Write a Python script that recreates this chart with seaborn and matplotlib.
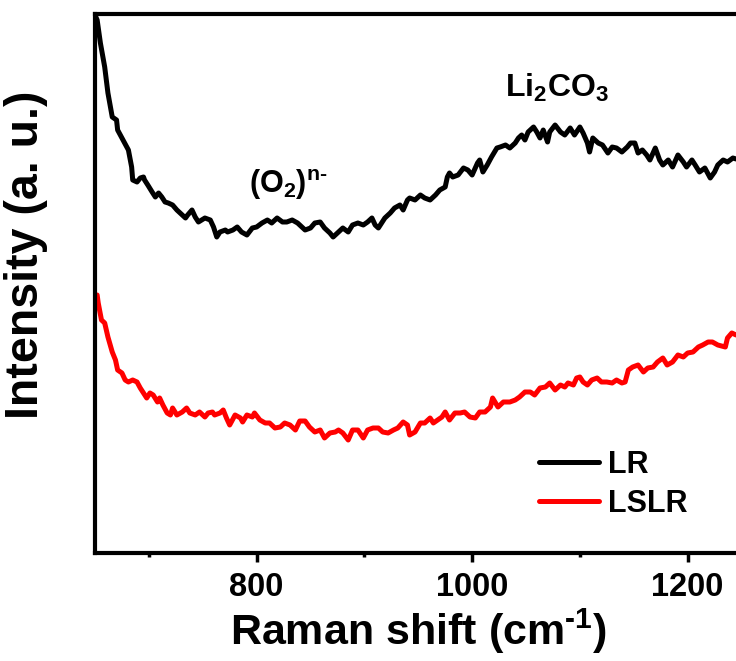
import numpy as np
import pandas as pd
import matplotlib
matplotlib.use("Agg")
import matplotlib.pyplot as plt
import seaborn as sns

# Raman spectra (shift in cm^-1, intensity in arbitrary units, LR offset upward)
lr_shift = [650, 652, 655, 659, 662, 666, 670, 671, 676, 681, 684, 685, 689, 692, 695,
            696, 699, 703, 706, 709, 712, 715, 718, 722, 726, 731, 734, 736, 740, 743,
            746, 749, 752, 757, 760, 763, 766, 771, 773, 778, 782, 786, 791, 796, 800,
            805, 810, 814, 819, 824, 828, 833, 838, 840, 845, 850, 854, 859, 863, 868,
            871, 876, 880, 885, 889, 894, 899, 903, 907, 910, 913, 916, 919, 924, 928,
            933, 936, 940, 942, 947, 952, 956, 961, 966, 970, 975, 977, 979, 982, 987,
            992, 996, 1000, 1005, 1007, 1010, 1014, 1018, 1023, 1026, 1031, 1035, 1040,
            1043, 1046, 1049, 1052, 1057, 1060, 1063, 1066, 1070, 1072, 1077, 1082, 1086,
            1091, 1095, 1100, 1103, 1107, 1109, 1112, 1117, 1121, 1126, 1130, 1134, 1139,
            1144, 1147, 1151, 1154, 1158, 1162, 1165, 1170, 1174, 1177, 1182, 1186, 1191,
            1196, 1199, 1204, 1207, 1211, 1216, 1221, 1225, 1228, 1233, 1237, 1242, 1245]
lr_intensity = [538, 533, 510, 486, 460, 436, 433, 423, 413, 403, 386, 373, 371, 375, 376,
                373, 368, 361, 356, 360, 356, 351, 350, 348, 343, 338, 335, 338, 343, 336,
                331, 333, 335, 333, 326, 316, 321, 323, 321, 323, 326, 321, 318, 325, 326,
                330, 333, 330, 335, 331, 331, 333, 330, 328, 323, 325, 330, 331, 325, 320,
                316, 321, 325, 321, 328, 330, 328, 331, 335, 328, 325, 330, 335, 340, 345,
                348, 343, 353, 355, 353, 358, 355, 353, 358, 363, 366, 376, 380, 376, 378,
                385, 383, 378, 390, 393, 381, 388, 396, 405, 406, 408, 405, 410,
                415, 418, 413, 421, 426, 421, 415, 423, 411, 421, 428, 421, 418,
                425, 418, 426, 420, 410, 401, 415, 410, 408, 400, 406, 405, 401,
                406, 410, 410, 400, 403, 398, 393, 405, 393, 388, 393, 386, 398,
                391, 386, 393, 388, 381, 385, 375, 381, 388, 393, 391, 395, 394]

lslr_shift = [652, 653, 656, 659, 662, 666, 669, 671, 675, 678, 681, 685, 689, 692, 695,
              698, 701, 704, 708, 710, 713, 717, 720, 722, 726, 731, 735, 738, 743, 747,
              752, 755, 759, 761, 766, 769, 772, 775, 780, 785, 787, 791, 796, 798, 803,
              808, 812, 817, 822, 826, 831, 836, 840, 845, 849, 854, 859, 863, 868, 873,
              876, 880, 885, 889, 894, 899, 903, 908, 913, 917, 922, 927, 931, 936, 940,
              942, 947, 952, 956, 961, 964, 968, 972, 975, 979, 984, 989, 993, 998, 1003,
              1007, 1012, 1017, 1019, 1024, 1029, 1033, 1035, 1040, 1044, 1049, 1054, 1058,
              1063, 1068, 1072, 1077, 1082, 1086, 1089, 1094, 1097, 1100, 1103, 1107, 1111,
              1116, 1120, 1125, 1130, 1134, 1139, 1142, 1145, 1149, 1154, 1159, 1163, 1168,
              1172, 1177, 1181, 1186, 1191, 1196, 1200, 1205, 1210, 1214, 1219, 1223, 1228,
              1235, 1237, 1241, 1245]
lslr_intensity = [258, 250, 233, 230, 216, 201, 193, 183, 180, 173, 171, 173, 171, 165, 160,
                  155, 160, 158, 151, 155, 148, 140, 138, 145, 138, 141, 145, 140, 138, 141,
                  136, 140, 141, 138, 140, 143, 135, 128, 138, 135, 131, 138, 136, 140, 133,
                  130, 130, 125, 126, 130, 128, 123, 132, 132, 126, 121, 123, 115, 120, 121,
                  123, 120, 113, 123, 123, 115, 123, 125, 125, 121, 120, 123, 125, 131, 128,
                  118, 121, 130, 130, 135, 130, 133, 136, 141, 133, 140, 140, 141, 136, 135,
                  141, 141, 146, 155, 146, 151, 151, 151, 153, 156, 161, 161, 158,
                  165, 166, 170, 163, 168, 166, 170, 168, 175, 176, 171, 168, 173,
                  175, 171, 171, 170, 173, 170, 171, 183, 186, 188, 181, 185, 186,
                  191, 195, 188, 191, 198, 196, 200, 201, 206, 208, 211, 211, 208,
                  206, 215, 220, 218]

series_names = ["LR", "LSLR"]
series_colors = ["#000000", "#ff0000"]
x_ticks = [800, 1000, 1200]
x_minor_ticks = [700, 900, 1100]

sns.set_theme(style="ticks")
plt.rcParams["font.family"] = ["Liberation Sans", "DejaVu Sans"]
plt.rcParams["font.weight"] = "bold"
plt.rcParams["text.color"] = "black"
plt.rcParams["axes.labelcolor"] = "black"
plt.rcParams["xtick.color"] = "black"
plt.rcParams["ytick.color"] = "black"
plt.rcParams["mathtext.fontset"] = "custom"
plt.rcParams["mathtext.rm"] = "Liberation Sans:bold"
plt.rcParams["mathtext.it"] = "Liberation Sans:bold"
plt.rcParams["mathtext.bf"] = "Liberation Sans:bold"

df = pd.concat([
    pd.DataFrame({"shift": lr_shift, "intensity": lr_intensity, "sample": "LR"}),
    pd.DataFrame({"shift": lslr_shift, "intensity": lslr_intensity, "sample": "LSLR"}),
], ignore_index=True)

W, H = 736, 661
fig = plt.figure(figsize=(W / 100, H / 100), dpi=100)
x_min, x_max = 650, 1250
px_per_unit = 1.0775
ax_left, ax_right = 95, 95 + (x_max - x_min) * px_per_unit
ax_top, ax_bottom = 14, 553
ax = fig.add_axes([ax_left / W, 1 - ax_bottom / H,
                   (ax_right - ax_left) / W, (ax_bottom - ax_top) / H])

sns.lineplot(data=df, x="shift", y="intensity", hue="sample",
             hue_order=series_names, palette=series_colors,
             estimator=None, sort=True, linewidth=3.6, ax=ax)

ax.set_xlim(x_min, x_max)
ax.set_ylim(0, 539)
ax.set_xticks(x_ticks)
ax.set_xticks(x_minor_ticks, minor=True)
ax.set_yticks([])
ax.tick_params(axis="x", which="major", direction="out", length=6.5, width=2.5,
               pad=7, labelsize=23.5, colors="black")
ax.tick_params(axis="x", which="minor", direction="out", length=3, width=2.5)
for lbl in ax.get_xticklabels():
    lbl.set_fontweight("bold")
for side in ["left", "bottom", "top", "right"]:
    ax.spines[side].set_linewidth(3)
    ax.spines[side].set_color("black")
    ax.spines[side].set_visible(True)

ax.set_xlabel(r"Raman shift (cm$^{\text{-1}}$)", fontsize=31, fontweight="bold", labelpad=3)
ax.set_ylabel("Intensity (a. u.)", fontsize=33.5, fontweight="bold")
ax.yaxis.set_label_coords(-0.072, 0.553)

ax.text(829, 368, r"(O$_2$)$^{\text{n-}}$", fontsize=22, fontweight="bold",
        ha="center", va="center")
ax.text(1079, 465, r"Li$_2$CO$_3$", fontsize=23, fontweight="bold",
        ha="center", va="center")

handles, labels = ax.get_legend_handles_labels()
leg = ax.legend(handles, labels, loc="upper left",
                bbox_to_anchor=(539 / W, 1 - 450 / H), bbox_transform=fig.transFigure,
                frameon=False, fontsize=22, handlelength=1.95, handletextpad=0.3,
                labelspacing=0.3, borderpad=0, borderaxespad=0)
for t in leg.get_texts():
    t.set_fontweight("bold")
    t.set_color("black")
for ln in leg.get_lines():
    ln.set_linewidth(3.6)

fig.savefig("out.png", dpi=100)
